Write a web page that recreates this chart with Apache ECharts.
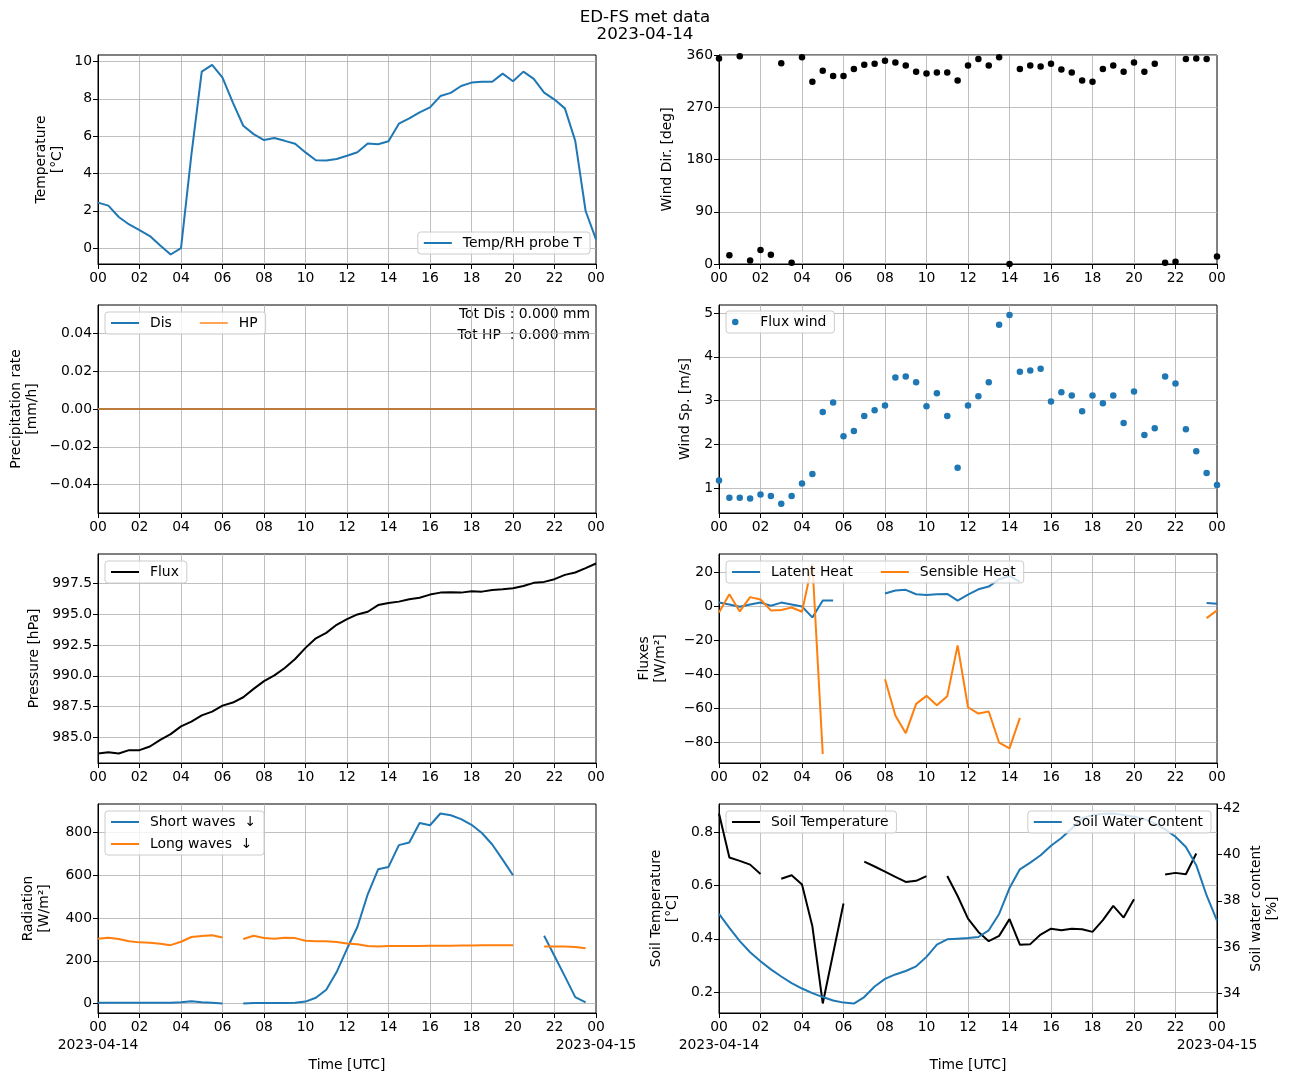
<!DOCTYPE html>
<html><head><meta charset="utf-8">
<script src="https://cdn.jsdelivr.net/npm/echarts@6/dist/echarts.min.js"></script>
<style>html,body{margin:0;padding:0;background:#fff}#c{width:1290px;height:1082px}</style>
</head><body><div id="c"></div>
<script>
// ---------------- DATA ----------------
const hours = [0,0.5,1,1.5,2,2.5,3,3.5,4,4.5,5,5.5,6,6.5,7,7.5,8,8.5,9,9.5,10,10.5,11,11.5,12,12.5,13,13.5,14,14.5,15,15.5,16,16.5,17,17.5,18,18.5,19,19.5,20,20.5,21,21.5,22,22.5,23,23.5,24];

const temperature = [2.44,2.28,1.67,1.27,0.97,0.65,0.14,-0.34,0.0,5.0,9.46,9.82,9.14,7.8,6.56,6.11,5.79,5.9,5.75,5.59,5.13,4.71,4.7,4.78,4.95,5.14,5.61,5.57,5.73,6.67,6.95,7.28,7.54,8.15,8.32,8.69,8.87,8.92,8.92,9.35,8.94,9.46,9.07,8.33,7.96,7.49,5.75,1.99,0.47];

const windDir = [354,15,358,6,24,16,346,2,356,314,333,324,324,336,343,345,350,347,342,331,328,330,330,316,342,353,342,356,0,336,342,340,345,335,330,316,314,336,342,331,347,331,345,2,4,353,354,353,13];

const precipDis = [0,0,0,0,0,0,0,0,0,0,0,0,0,0,0,0,0,0,0,0,0,0,0,0,0,0,0,0,0,0,0,0,0,0,0,0,0,0,0,0,0,0,0,0,0,0,0,0,0];
const precipHP  = [0,0,0,0,0,0,0,0,0,0,0,0,0,0,0,0,0,0,0,0,0,0,0,0,0,0,0,0,0,0,0,0,0,0,0,0,0,0,0,0,0,0,0,0,0,0,0,0,0];

const windSpeed = [1.18,0.79,0.79,0.77,0.86,0.83,0.65,0.83,1.11,1.33,2.74,2.96,2.19,2.31,2.65,2.78,2.89,3.53,3.55,3.42,2.87,3.17,2.65,1.47,2.89,3.10,3.42,4.73,4.95,3.66,3.69,3.73,2.98,3.19,3.12,2.76,3.12,2.94,3.12,2.49,3.21,2.22,2.37,3.55,3.39,2.35,1.85,1.35,1.08];

const pressure = [983.70,983.80,983.70,983.97,983.97,984.27,984.81,985.27,985.90,986.28,986.79,987.09,987.58,987.83,988.26,988.94,989.57,990.03,990.63,991.36,992.26,993.04,993.48,994.13,994.59,994.97,995.19,995.73,995.90,996.01,996.20,996.33,996.58,996.74,996.77,996.74,996.85,996.82,996.96,997.01,997.09,997.28,997.53,997.61,997.83,998.18,998.37,998.72,999.10];

const latentHeat = [2.1,1.0,-0.4,1.0,2.1,0.2,2.1,1.0,-0.2,-6.6,3.3,3.3,
  null,null,null,null,
  7.4,9.2,9.6,7.0,6.6,7.0,7.2,3.3,6.8,9.9,11.5,15.8,17.7,14.2,
  null,null,null,null,null,null,null,null,null,null,null,null,null,null,null,null,null,
  1.8,1.4];

const sensibleHeat = [-3.7,7.0,-3.1,5.3,3.9,-2.5,-2.3,-0.8,-3.3,25.0,-86.7,
  null,null,null,null,null,
  -42.9,-64.1,-74.5,-57.3,-52.6,-58.1,-52.8,-23.0,-59.3,-63.0,-61.8,-80.1,-83.4,-65.5,
  null,null,null,null,null,null,null,null,null,null,null,null,null,null,null,null,null,
  -7.0,-2.5];

const shortWaves = [3,3,3,3,3,3,3,3,6,11,6,3,0,
  null,
  0,2,2,2,2,3,9,27,64,147,256,358,511,628,639,741,753,845,834,889,881,863,836,798,744,673,600,
  null,null,
  317,222,127,30,5,
  null];

const longWaves = [303,308,302,291,286,284,280,273,289,311,316,319,309,
  null,
  302,317,306,303,308,306,294,291,291,288,281,277,269,267,269,269,269,269,270,270,270,271,271,272,272,273,273,
  null,null,
  267,267,267,264,259,
  null];

const soilTemp = [0.871,0.706,0.693,0.679,0.644,
  null,
  0.626,0.639,0.604,0.447,0.157,0.345,0.533,
  null,
  0.690,0.672,0.653,0.633,0.614,0.618,0.636,
  null,
  0.636,0.561,0.476,0.426,0.391,0.411,0.474,0.378,0.380,0.416,0.438,0.432,0.438,0.436,0.426,0.470,0.524,0.480,0.549,
  null,null,
  0.642,0.648,0.643,0.721,
  null,null];

const soilWater = [37.43,36.83,36.25,35.77,35.38,35.03,34.72,34.43,34.20,34.0,33.83,33.68,33.59,33.55,33.83,34.29,34.62,34.81,34.96,35.16,
  35.57,36.10,36.33,36.36,36.39,36.43,36.72,37.43,38.55,39.36,39.65,39.97,40.38,40.72,41.13,41.57,41.71,41.77,41.78,41.71,
  41.64,41.54,41.35,41.09,40.77,40.33,39.54,38.23,37.14];

// tick labels
const hourTicks = [0,2,4,6,8,10,12,14,16,18,20,22,24];
const dateTicks = [0,24];
const dateLabels = ['2023-04-14','2023-04-15'];
const tempTicks = [0,2,4,6,8,10];
const windDirTicks = [0,90,180,270,360];
const precipTicks = [-0.04,-0.02,0,0.02,0.04];
const windSpTicks = [1,2,3,4,5];
const pressureTicks = [985,987.5,990,992.5,995,997.5];
const fluxTicks = [-80,-60,-40,-20,0,20];
const radTicks = [0,200,400,600,800];
const soilTTicks = [0.2,0.4,0.6,0.8];
const soilWCTicks = [34,36,38,40,42];

// ---------------- CHART ----------------
const FONT = 'DejaVu Sans';
const FS = 13.9;
const BLUE = '#1f77b4', ORANGE = '#ff7f0e';
const pad2 = v => String(Math.round(v) % 24).padStart(2, '0');
const mfmt = (d) => v => (v < 0 ? '\u2212' : '') + Math.abs(v).toFixed(d);
const pairs = ys => hours.map((h, i) => [h, ys[i] == null ? null : ys[i]]);

const gridDefs = [[98,55,209],[719,55,209],[98,305,208],[719,305,208],[98,554,209],[719,554,209],[98,804,209],[719,804,209]];
const grid = gridDefs.map(([l,t,h]) => ({left:l, top:t, width:498, height:h, show:true, borderColor:'#000', borderWidth:1, backgroundColor:'transparent'}));

const txt = {color:'#000', fontFamily:FONT, fontSize:FS};

function xAx(gi, bottom) {
  return {type:'value', gridIndex:gi, min:0, max:24, position:'bottom',
    axisLine:{show:true, onZero:false, lineStyle:{color:'#000', width:1}},
    axisTick:{show:true, length:5, customValues:hourTicks, lineStyle:{color:'#000'}},
    axisLabel:Object.assign({customValues:hourTicks, margin:7, hideOverlap:false, formatter: v => pad2(v)}, txt),
    splitLine:{show:true, showMinLine:false, showMaxLine:false, lineStyle:{color:'#b0b0b0', width:0.8}},
    name: bottom ? 'Time [UTC]' : '', nameLocation:'middle', nameGap:45, nameTextStyle:txt
  };
}
function xDateAx(gi) {
  return {type:'value', gridIndex:gi, min:0, max:24, position:'bottom',
    axisLine:{show:false, onZero:false}, axisTick:{show:false, customValues:dateTicks}, splitLine:{show:false},
    axisLabel:Object.assign({customValues:dateTicks, margin:25, hideOverlap:false,
      formatter: v => dateLabels[dateTicks.indexOf(v)]}, txt)
  };
}
function yAx(gi, min, max, ticks, fmt, name, gap, pos) {
  return {type:'value', gridIndex:gi, min, max, position: pos || 'left',
    axisLine:{show:true, onZero:false, lineStyle:{color:'#000', width:1}},
    axisTick:{show:true, length:5, customValues:ticks, lineStyle:{color:'#000'}},
    axisLabel:Object.assign({customValues:ticks, formatter:fmt, margin:6, hideOverlap:false}, txt),
    splitLine:{show: pos !== 'right', lineStyle:{color:'#b0b0b0', width:0.8}},
    name, nameLocation:'middle', nameRotate:90, nameGap:gap,
    nameTextStyle:Object.assign({lineHeight:16}, txt)
  };
}

const xAxis = [0,1,2,3,4,5,6,7].map(i => xAx(i, i >= 6)).concat([xDateAx(6), xDateAx(7)]);
const yAxis = [
  yAx(0, -0.85, 10.35, tempTicks, mfmt(0), 'Temperature\n[°C]', 33),
  yAx(1, 0, 360, windDirTicks, mfmt(0), 'Wind Dir. [deg]', 44),
  yAx(2, -0.055, 0.055, precipTicks, mfmt(2), 'Precipitation rate\n[mm/h]', 58),
  yAx(3, 0.44, 5.18, windSpTicks, mfmt(0), 'Wind Sp. [m/s]', 26),
  yAx(4, 982.93, 999.87, pressureTicks, mfmt(1), 'Pressure [hPa]', 56),
  yAx(5, -92, 30.6, fluxTicks, mfmt(0), 'Fluxes\n[W/m²]', 51),
  yAx(6, -44.5, 933.5, radTicks, mfmt(0), 'Radiation\n[W/m²]', 46),
  yAx(7, 0.121, 0.907, soilTTicks, mfmt(1), 'Soil Temperature\n[°C]', 39),
  yAx(7, 33.14, 42.19, soilWCTicks, mfmt(0), 'Soil water content\n[%]', 31, 'right')
];

const line = (name, xi, yi, data, color, z) => ({type:'line', name, xAxisIndex:xi, yAxisIndex:yi, data:pairs(data),
  showSymbol:false, symbol:'none', connectNulls:false, z: z || 2,
  lineStyle:{color, width:2}, itemStyle:{color}, animation:false});
const scatter = (name, xi, yi, data, color) => ({type:'scatter', name, xAxisIndex:xi, yAxisIndex:yi, data:pairs(data),
  symbolSize:6.5, itemStyle:{color, opacity:1}, animation:false});

const series = [
  line('Temp/RH probe T', 0, 0, temperature, BLUE),
  scatter('Wind direction', 1, 1, windDir, '#000'),
  line('Dis', 2, 2, precipDis, BLUE),
  line('HP', 2, 2, precipHP, 'rgba(255,127,14,0.7)', 3),
  scatter('Flux wind', 3, 3, windSpeed, BLUE),
  line('Flux', 4, 4, pressure, '#000'),
  line('Latent Heat', 5, 5, latentHeat, BLUE),
  line('Sensible Heat', 5, 5, sensibleHeat, ORANGE, 3),
  line('Short waves  ↓', 6, 6, shortWaves, BLUE),
  line('Long waves  ↓', 6, 6, longWaves, ORANGE, 3),
  line('Soil Temperature', 7, 7, soilTemp, '#000'),
  line('Soil Water Content', 7, 8, soilWater, BLUE)
];

function leg(names, pos, extra) {
  return Object.assign({data:names, icon:'rect', itemWidth:28, itemHeight:2, itemGap:28,
    padding:[4,8,4,6], backgroundColor:'rgba(255,255,255,0.8)', borderColor:'#cccccc', borderWidth:1, borderRadius:3,
    selectedMode:false, textStyle:Object.assign({padding:[0,0,0,6]}, txt)}, pos, extra || {});
}
const legend = [
  leg(['Temp/RH probe T'], {right:700, top:232}),
  leg(['Dis','HP'], {left:105, top:312}),
  leg(['Flux wind'], {left:726, top:311}, {icon:'circle', itemHeight:6.5}),
  leg(['Flux'], {left:105, top:561}),
  leg(['Latent Heat','Sensible Heat'], {left:726, top:561}),
  leg(['Short waves  ↓','Long waves  ↓'], {left:105, top:811}, {orient:'vertical', itemGap:8}),
  leg(['Soil Temperature'], {left:726, top:811}),
  leg(['Soil Water Content'], {right:79, top:811})
];

const chart = echarts.init(document.getElementById('c'), null, {renderer:'canvas'});
chart.setOption({
  animation:false,
  backgroundColor:'#fff',
  title:{text:'ED-FS met data\n' + dateLabels[0], left:'center', top:4,
    textStyle:{fontFamily:FONT, fontSize:16.7, fontWeight:'normal', color:'#000', lineHeight:17}},
  grid, xAxis, yAxis, series, legend,
  graphic:[
    {type:'text', x:590, y:314, style:{text:'Tot Dis : 0.000 mm', fill:'#000', font:'13.9px "DejaVu Sans"', textAlign:'right', textVerticalAlign:'middle', align:'right', verticalAlign:'middle'}},
    {type:'text', x:590, y:335, style:{text:'Tot HP  : 0.000 mm', fill:'#000', font:'13.9px "DejaVu Sans"', textAlign:'right', textVerticalAlign:'middle', align:'right', verticalAlign:'middle'}}
  ]
});
</script>
</body></html>
